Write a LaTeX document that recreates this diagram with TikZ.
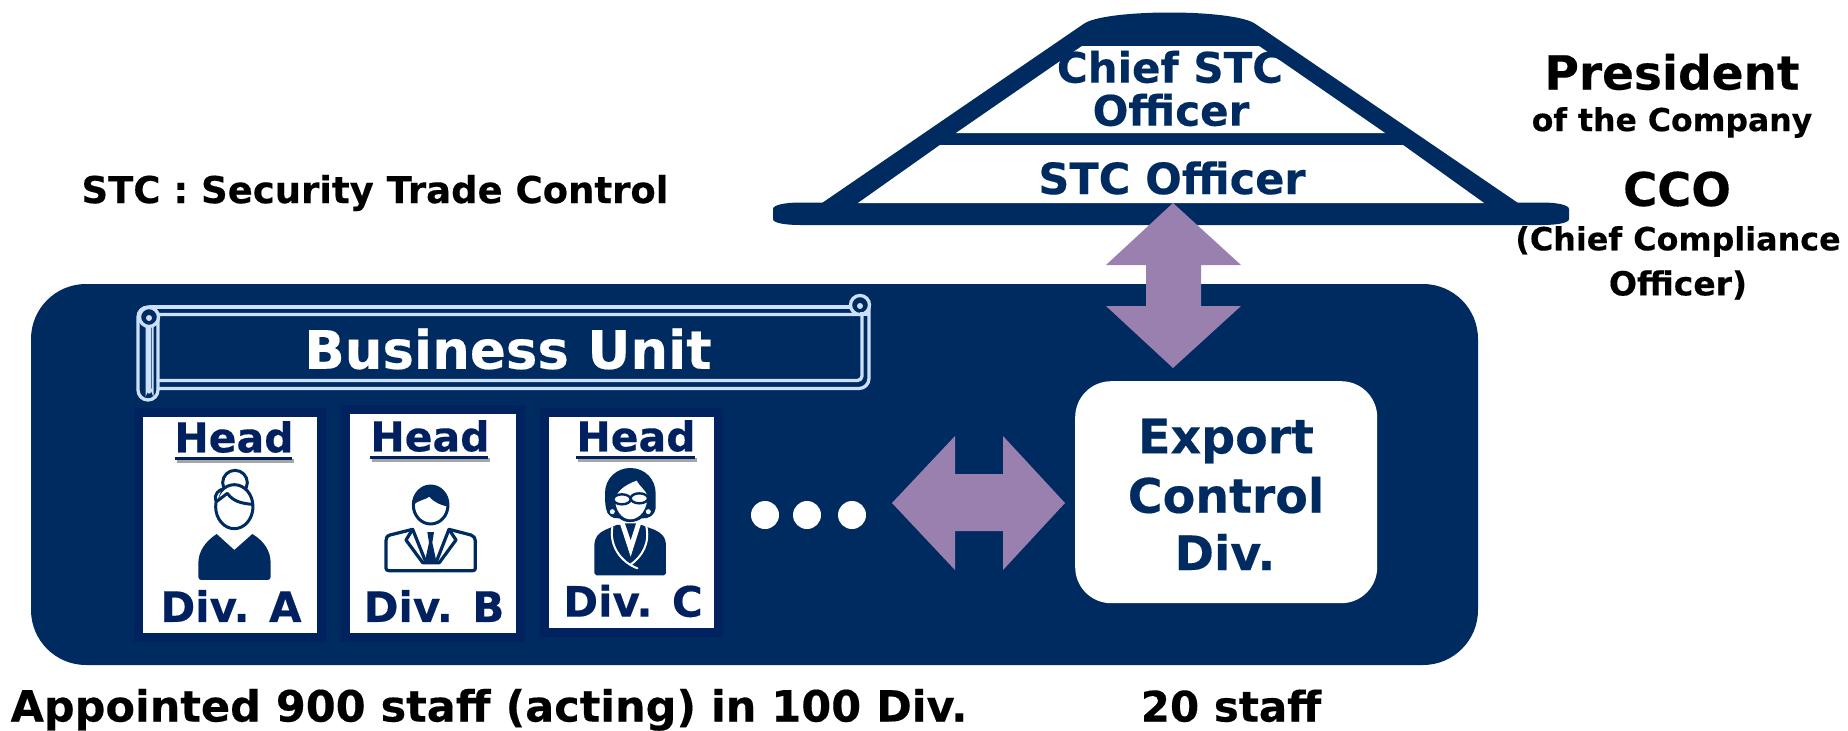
\documentclass[tikz,border=0pt]{standalone}
\usepackage{fontspec}
\setmainfont{DejaVu Sans}[BoldFeatures={FakeBold=0.35}]
\definecolor{navy}{HTML}{002B60}
\definecolor{deep}{HTML}{002060}
\definecolor{cardedge}{HTML}{00225F}
\definecolor{purp}{HTML}{9A80AE}
\definecolor{pale}{HTML}{CCE0FA}
\newcommand{\fsz}[1]{\fontsize{#1}{#1}\selectfont\bfseries}
\tikzset{
  lbl/.style={inner sep=0pt,outer sep=0pt,align=center},
  blk/.style={lbl,text=black},
  nav/.style={lbl,text=navy},
  dp/.style={lbl,text=deep},
  card/.style={fill=white,draw=cardedge,line width=9pt},
  arrowshape/.style={fill=purp,draw=none},
  scrollline/.style={draw=pale,line width=3.3pt,line join=round,line cap=round},
  ico/.style={fill=navy,draw=none},
  icoline/.style={draw=navy,line width=3pt,line join=round,line cap=round},
  whiteline/.style={draw=white,line width=2pt,line cap=round},
}
\begin{document}
\begin{tikzpicture}[x=1pt,y=-1pt]
\useasboundingbox (0,0) rectangle (1848,731);
% roof
\fill[navy] (822,203) -- (1085,23) .. controls (1110,9) and (1229,9) .. (1254,23) -- (1518,203) -- cycle;
\fill[navy] (773,209) .. controls (773,205) and (785,202.5) .. (800,202.5) -- (1542,202.5) .. controls (1557,202.5) and (1569,205) .. (1569,209) -- (1569,219) .. controls (1569,223) and (1557,225) .. (1542,225) -- (800,225) .. controls (785,225) and (773,223) .. (773,219) -- cycle;
\fill[white] (956,133) -- (1082,46) -- (1259,46) -- (1385,133) -- cycle;
\fill[white] (940,145) -- (1403,145) -- (1484,203) -- (858,203) -- cycle;
% main panel
\fill[navy] (31,284) [rounded corners=55pt] rectangle (1478,665);
% vertical double arrow
\path[arrowshape] (1173,203) -- (1241,265) -- (1201,265) -- (1201,306) -- (1241,306) -- (1173,368) -- (1106,306) -- (1146,306) -- (1146,265) -- (1106,265) -- cycle;
% export box
\node[fill=white,rounded corners=36pt,minimum width=302pt,minimum height=222pt,inner sep=0pt,anchor=north west] (export) at (1075,381) {};
% horizontal double arrow
\path[arrowshape] (892,503) -- (955,436) -- (955,474) -- (1003,474) -- (1003,436) -- (1065,503) -- (1003,570) -- (1003,531) -- (955,531) -- (955,570) -- cycle;
% dots
\fill[white] (765,515) circle (14) (807,515) circle (14) (852,515) circle (14);
% scroll
\draw[scrollline] (150,307) -- (860,307);
\draw[scrollline] (150,314.5) -- (862,314.5) -- (862,376) arc[start angle=0,end angle=90,radius=4.5] -- (158,380.5);
\draw[scrollline] (158,314) -- (158,390) arc[start angle=0,end angle=180,radius=10] -- (138,317) arc[start angle=180,end angle=360,radius=10];
\draw[scrollline] (158,388.5) -- (859,388.5) arc[start angle=90,end angle=0,radius=10] -- (869,305);
\draw[scrollline] (149,320) -- (149,392);
\draw[draw=pale,line width=2pt] (146.5,318) -- (146.5,392) arc[start angle=180,end angle=360,radius=3] -- (152.5,318);
\draw[draw=pale,line width=3.3pt,fill=navy] (860,305) circle (9.5);
\fill[pale] (860,306) circle (3);
\fill[pale] (860,312) -- (869,312) -- (869,316) -- (860,316) -- cycle;
\draw[draw=pale,line width=3.3pt,fill=navy] (149,317) circle (9.5);
\fill[pale] (149,318) circle (3);
% cards
\path[card] (138.5,412) rectangle (321.5,637.5);
\path[card] (345.5,409.5) rectangle (520.5,637.5);
\path[card] (544.5,412.5) rectangle (718.5,632.5);
% Head underlines
\fill[gray!70] (177,459) rectangle (294,462.5);
\fill[deep] (175,456.5) rectangle (292,460);
\fill[gray!70] (372,458) rectangle (490,461.5);
\fill[deep] (370,455.5) rectangle (488,459);
\fill[gray!70] (578,458) rectangle (697,461.5);
\fill[deep] (576,455.5) rectangle (695,459);
% icon A
\begin{scope}[shift={(170,460)},x=.3333pt,y=-.3333pt]
\draw[icoline,line width=3pt] (195,68) circle[radius=37];
\draw[icoline,fill=white] (193,140) ellipse[x radius=56,y radius=66];
\draw[icoline,fill=white] (155,88) .. controls (130,100) and (135,120) .. (140,125);
\draw[icoline] (142,123) -- (172,100) .. controls (190,125) and (215,130) .. (246,133);
\fill[ico] (140,222) -- (193,270) -- (247,222) .. controls (285,245) and (302,275) .. (302,310) -- (302,352) [rounded corners=3pt] -- (302,360) -- (85,360) [sharp corners] -- (85,310) .. controls (85,275) and (105,245) .. (140,222) -- cycle;
\end{scope}
% icon B
\begin{scope}[shift={(370,470)},x=.3333pt,y=-.3333pt]
\draw[icoline,fill=white] (182,105) ellipse[x radius=52,y radius=57];
\fill[ico] (130,105) .. controls (130,65) and (155,47) .. (182,47) .. controls (212,47) and (235,70) .. (235,110) .. controls (210,105) and (190,95) .. (178,80) .. controls (165,90) and (145,90) .. (130,105) -- cycle;
\draw[icoline,line width=3.2pt] (128,178) -- (60,195) .. controls (50,198) and (48,205) .. (48,212) -- (48,295) .. controls (48,300) and (52,302) .. (57,302) -- (308,302) .. controls (313,302) and (316,300) .. (316,295) -- (316,212) .. controls (316,205) and (312,198) .. (303,195) -- (237,178);
\draw[icoline,line width=3.2pt] (128,178) -- (108,210) -- (158,278) -- (208,278) -- (258,210) -- (237,178);
\draw[icoline,line width=3.2pt] (128,178) -- (168,278) (237,178) -- (198,278);
\fill[ico] (172,186) -- (192,186) -- (187,218) -- (200,278) -- (164,278) -- (177,218) -- cycle;
\end{scope}
% icon C
\begin{scope}[shift={(560,440)},x=.3333pt,y=-.3333pt]
\fill[ico] (138,205) .. controls (135,190) and (135,175) .. (135,160) .. controls (135,115) and (170,84) .. (211,84) .. controls (255,84) and (287,118) .. (287,160) .. controls (287,175) and (287,190) .. (287,205) .. controls (285,225) and (265,238) .. (245,235) .. controls (225,250) and (195,250) .. (178,235) .. controls (158,238) and (140,225) .. (138,205) -- cycle;
\fill[white] (165,175) .. controls (175,150) and (195,135) .. (230,122) .. controls (240,140) and (255,150) .. (262,165) .. controls (265,205) and (240,238) .. (211,238) .. controls (185,238) and (165,210) .. (165,175) -- cycle;
\draw[draw=navy,line width=2.4pt,fill=white] (186,178) ellipse[x radius=26,y radius=15];
\draw[draw=navy,line width=2.4pt,fill=white] (238,175) ellipse[x radius=26,y radius=15];
\fill[white] (157,215) circle (7.5) (265,215) circle (7.5);
\fill[ico] (103,320) .. controls (103,290) and (115,280) .. (135,270) -- (170,255) -- (245,255) -- (285,270) .. controls (305,280) and (318,290) .. (318,320) -- (318,400) -- (312,406) -- (109,406) -- (103,400) -- cycle;
\fill[white] (180,252) -- (212,350) -- (243,252) -- cycle;
\fill[ico] (195,250) -- (228,250) -- (212,300) -- cycle;
\draw[whiteline] (157,262) .. controls (148,315) and (180,365) .. (232,385);
\draw[whiteline] (258,255) .. controls (272,310) and (245,350) .. (212,374);
\end{scope}
% texts
\node[blk,font=\fsz{37}] (stc) at (375,193) {STC : Security Trade Control};
\node[blk,font=\fsz{47}] (pres) at (1672,72) {President};
\node[blk,font=\fsz{31.5}] (comp) at (1672,122.5) {of the Company};
\node[blk,font=\fsz{46.5}] (cco) at (1677,189) {CCO};
\node[blk,font=\fsz{31.8}] (cco1) at (1678,241.5) {(Chief Compliance};
\node[blk,font=\fsz{33}] (cco2) at (1678,285) {Officer)};
\node[nav,font=\fsz{42}] (chief) at (1170,67) {Chief STC};
\node[nav,font=\fsz{42}] (chief2) at (1171,110) {Officer};
\node[nav,font=\fsz{43}] (officer) at (1172,178) {STC Officer};
\node[lbl,text=white,font=\fsz{53}] (bu) at (508,349) {Business Unit};
\node[dp,font=\fsz{41}] (ha) at (234,437) {Head};
\node[dp,font=\fsz{41}] (hb) at (430,436) {Head};
\node[dp,font=\fsz{41}] (hc) at (636,436) {Head};
\node[dp,font=\fsz{42}] (da) at (231,606) {Div. A};
\node[dp,font=\fsz{42}] (db) at (434,606) {Div. B};
\node[dp,font=\fsz{42}] (dc) at (633,601) {Div. C};
\node[nav,font=\fsz{47.5}] (e1) at (1226,441) {Export};
\node[nav,font=\fsz{47.5}] (e2) at (1226,495) {Control};
\node[nav,font=\fsz{47.5}] (e3) at (1225,552) {Div.};
\node[blk,font=\fsz{43},anchor=base] (app) at (489,721.5) {Appointed 900 staff (acting) in 100 Div.};
\node[blk,font=\fsz{42},anchor=base] (twenty) at (1231,721.5) {20 staff};
\end{tikzpicture}
\end{document}
